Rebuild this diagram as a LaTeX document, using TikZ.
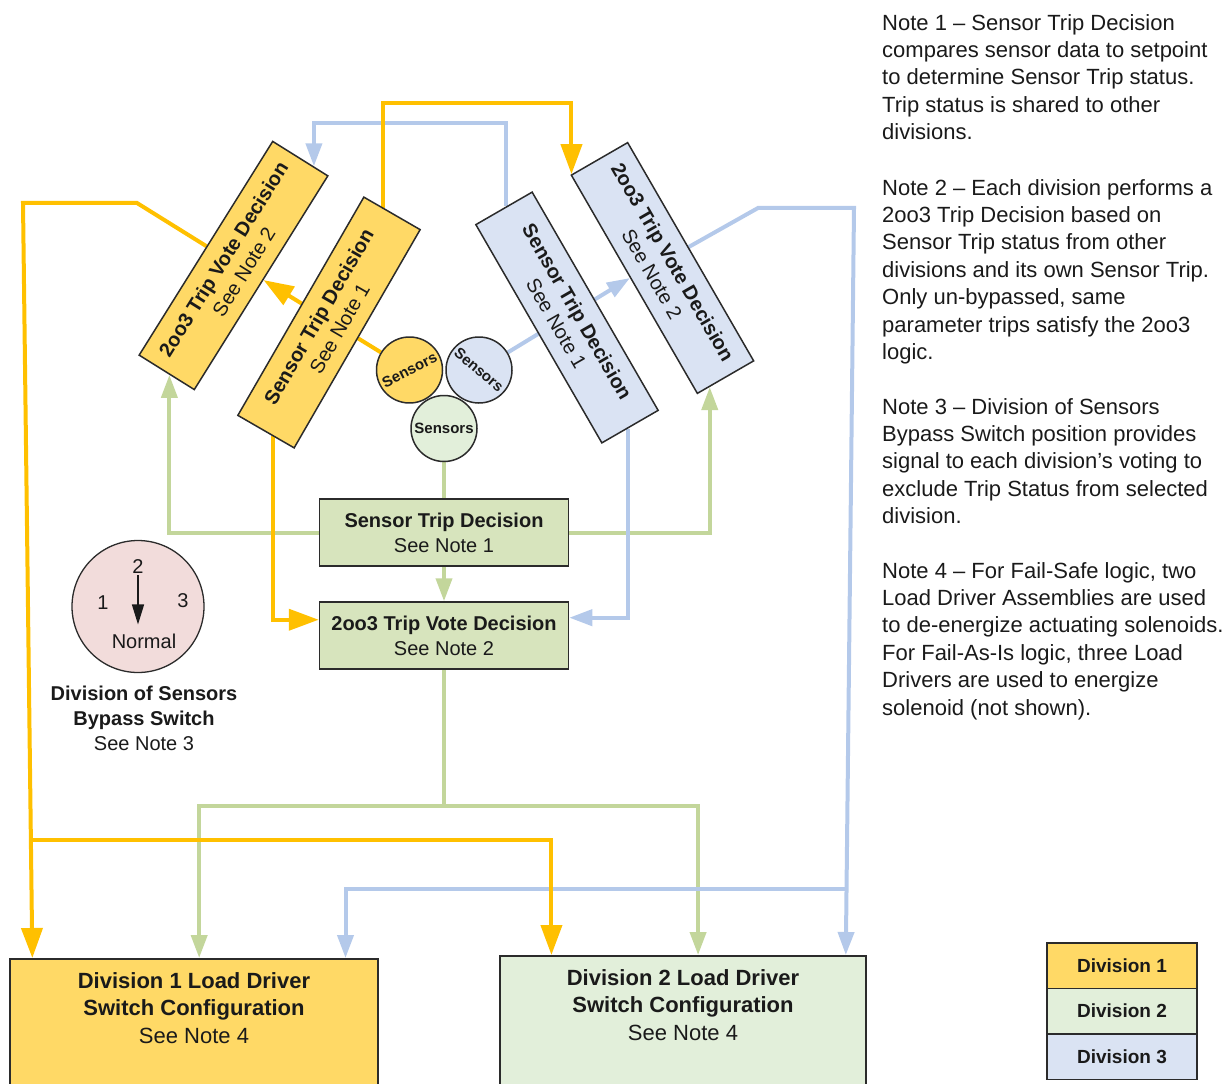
\documentclass[tikz,border=0pt]{standalone}
\usepackage{fontspec}
\setmainfont{Liberation Sans}
\usetikzlibrary{arrows.meta,calc,backgrounds}

\definecolor{divyellow}{HTML}{FFD966}
\definecolor{lineyellow}{HTML}{FFC000}
\definecolor{divgreen}{HTML}{D7E4BD}
\definecolor{divgreenlight}{HTML}{E2EFDA}
\definecolor{linegreen}{HTML}{C3D69B}
\definecolor{divblue}{HTML}{DAE3F3}
\definecolor{lineblue}{HTML}{B4C9EA}
\definecolor{switchpink}{HTML}{F2DCDB}
\definecolor{edge}{HTML}{2B2B2B}
\definecolor{ink}{HTML}{1A1A1A}

\tikzset{
  panel/.style={draw=edge, line width=1.5pt, rectangle, inner sep=2pt, align=center, text=ink},
  tiltbox/.style={panel, minimum width=252pt, minimum height=65pt, font=\fontsize{20}{24}\selectfont},
  flatbox/.style={panel, minimum width=249pt, minimum height=67pt, fill=divgreen, font=\fontsize{20}{25}\selectfont},
  sensorball/.style={circle, draw=edge, line width=1.5pt, minimum size=66pt, inner sep=0pt,
    text=ink, font=\bfseries\fontsize{15}{15}\selectfont},
  yline/.style={draw=lineyellow, line width=4pt},
  gline/.style={draw=linegreen, line width=4pt},
  bline/.style={draw=lineblue, line width=4pt},
  yarrow/.style={yline, -{Triangle[width=21pt,length=30pt]}},
  garrow/.style={gline, -{Triangle[width=16pt,length=23pt]}},
  barrow/.style={bline, -{Triangle[width=16pt,length=23pt]}},
  notetext/.style={anchor=north west, align=left, inner sep=0pt, text=ink, font=\fontsize{22}{27.4}\selectfont},
  legendbox/.style={panel, minimum width=150pt, minimum height=45.5pt, font=\bfseries\fontsize{19}{19}\selectfont},
  loadbox/.style={panel, anchor=north, minimum height=140pt},
  loadtext/.style={anchor=north, inner sep=0pt, yshift=-14pt, align=center, text=ink, font=\fontsize{22}{27.5}\selectfont},
  switchnum/.style={inner sep=1pt, text=ink, font=\fontsize{20}{20}\selectfont},
}

\begin{document}
\begin{tikzpicture}[x=1pt,y=-1pt]
\useasboundingbox (0,0) rectangle (1230,1083);
\clip (0,0) rectangle (1230,1083);

% ---------- Division 1 (tilted, left) ----------
\node[tiltbox, fill=divyellow, rotate=58] (d1vote) at (233.5,265.5)
  {\textbf{2oo3 Trip Vote Decision}\\See Note 2};
\node[tiltbox, fill=divyellow, rotate=60] (d1trip) at (329,322.5)
  {\textbf{Sensor Trip Decision}\\See Note 1};

% ---------- Division 3 (tilted, right) ----------
\node[tiltbox, fill=divblue, rotate=-60] (d3trip) at (567,317.5)
  {\textbf{Sensor Trip Decision}\\See Note 1};
\node[tiltbox, fill=divblue, rotate=-60] (d3vote) at (662.5,268)
  {\textbf{2oo3 Trip Vote Decision}\\See Note 2};

% ---------- Sensors ----------
\node[sensorball, fill=divyellow, rotate=27] (ys) at (409.5,370) {Sensors};
\node[sensorball, fill=divblue, rotate=-40] (bs) at (479,370) {Sensors};
\node[sensorball, fill=divgreenlight] (gs) at (444,428.5) {Sensors};

% ---------- Division 2 (upright, centre) ----------
\node[flatbox] (gtrip) at (444,532.5) {\textbf{Sensor Trip Decision}\\See Note 1};
\node[flatbox] (gvote) at (444,635.5) {\textbf{2oo3 Trip Vote Decision}\\See Note 2};

% ---------- Load driver assemblies ----------
\node[loadbox, fill=divyellow, minimum width=368pt,
  label={[loadtext]north:{\textbf{Division 1 Load Driver}\\\textbf{Switch Configuration}\\See Note 4}}]
  (d1load) at (194,958) {};
\node[loadbox, fill=divgreenlight, minimum width=366pt,
  label={[loadtext]north:{\textbf{Division 2 Load Driver}\\\textbf{Switch Configuration}\\See Note 4}}]
  (d2load) at (683,955) {};

% ---------- Bypass switch ----------
\node[circle, draw=edge, line width=1.3pt, fill=switchpink, minimum size=132pt, inner sep=0pt] (sw) at (138,606.5) {};
\node[switchnum] (sw2) at (138,567) {2};
\node[switchnum] (sw1) at (103,603) {1};
\node[switchnum] (sw3) at (183,601) {3};
\node[switchnum] (swn) at (144,641) {Normal};
\draw[line width=1.5pt, draw=ink, -{Triangle[width=12pt,length=20pt]}, shorten >=8pt]
  (sw2) -- (sw2 |- swn.north);
\node[align=center, text=ink, font=\fontsize{20}{25}\selectfont] (swcap) at (144,718)
  {\textbf{Division of Sensors}\\\textbf{Bypass Switch}\\See Note 3};

% ---------- Legend ----------
\node[legendbox, fill=divyellow] (lg1) at (1122,965.5) {Division 1};
\node[legendbox, fill=divgreenlight] (lg2) at (1122,1011) {Division 2};
\node[legendbox, fill=divblue] (lg3) at (1122,1056.5) {Division 3};

% ---------- Notes ----------
\node[notetext] (n1) at (882,14) {Note 1 -- Sensor Trip Decision\\compares sensor data to setpoint\\to determine Sensor Trip status.\\Trip status is shared to other\\divisions.};
\node[notetext] (n2) at (882,179) {Note 2 -- Each division performs a\\2oo3 Trip Decision based on\\Sensor Trip status from other\\divisions and its own Sensor Trip.\\Only un-bypassed, same\\parameter trips satisfy the 2oo3\\logic.};
\node[notetext] (n3) at (882,398) {Note 3 -- Division of Sensors\\Bypass Switch position provides\\signal to each division’s voting to\\exclude Trip Status from selected\\division.};
\node[notetext] (n4) at (882,562) {Note 4 -- For Fail-Safe logic, two\\Load Driver Assemblies are used\\to de-energize actuating solenoids.\\For Fail-As-Is logic, three Load\\Drivers are used to energize\\solenoid (not shown).};

% ---------- Signal lines (behind the boxes) ----------
\begin{pgfonlayer}{background}
  % Division 2 lines
  \draw[gline] (gs) -- (gtrip);
  \draw[garrow] (gtrip) -- (gvote);
  \draw[garrow] (gtrip.west) -| ($(d1vote.north west)!0.554!(d1vote.south west)$);
  \draw[garrow] (gtrip.east) -| ($(d3vote.south east)!0.22!(d3vote.north east)$);
  \coordinate (gsplit) at (gvote.south |- 0,806);
  \draw[gline] (gvote.south) -- (gsplit);
  \draw[garrow] (gsplit) -| ($(d1load.north west)!0.514!(d1load.north east)$);
  \draw[garrow] (gsplit) -| ($(d2load.north west)!0.541!(d2load.north east)$);

  % Division 3 lines
  \coordinate (b3up) at ($(d3trip.south west)!0.54!(d3trip.north west)$);
  \draw[barrow] (b3up) -- (b3up |- 0,123) -| ($(d1vote.north east)!0.735!(d1vote.south east)$);
  \draw[barrow] (bs) -- ($(d3vote.south west)!0.47!(d3vote.south east)$);
  \coordinate (b3bend) at (758,208);
  \coordinate (b3turn) at (854,208);
  \coordinate (b3split) at (845.8,889);
  \draw[barrow] ($(d3vote.north west)!0.48!(d3vote.north east)$) -- (b3bend) -- (b3turn)
    -- ($(d2load.north west)!0.943!(d2load.north east)$);
  \draw[barrow] (b3split) -| ($(d1load.north west)!0.910!(d1load.north east)$);
  \draw[barrow] ($(d3trip.south east)!0.46!(d3trip.north east)$) |- ($(gvote.north east)!0.24!(gvote.south east)$);

  % Division 1 lines
  \draw[yarrow] (ys) -- ($(d1vote.south west)!0.514!(d1vote.south east)$);
  \coordinate (y1up) at ($(d1trip.north east)!0.345!(d1trip.south east)$);
  \draw[yarrow] (y1up) -- (y1up |- 0,103) -| ($(d3vote.south west)!0.02!(d3vote.north west)$);
  \draw[yarrow] ($(d1trip.north west)!0.62!(d1trip.south west)$) |- ($(gvote.north west)!0.27!(gvote.south west)$);
  \coordinate (y1bend) at (137,203);
  \coordinate (y1turn) at (23,203);
  \coordinate (y1split) at (31.4,840);
  \draw[yarrow] ($(d1vote.north west)!0.508!(d1vote.north east)$) -- (y1bend) -- (y1turn)
    -- ($(d1load.north west)!0.0625!(d1load.north east)$);
  \draw[yarrow] (y1split) -| ($(d2load.north west)!0.142!(d2load.north east)$);
\end{pgfonlayer}
\end{tikzpicture}
\end{document}
